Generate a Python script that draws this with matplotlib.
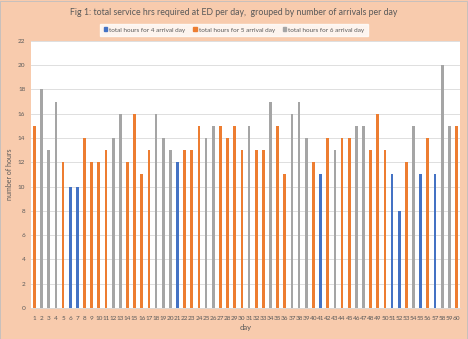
import numpy as np
import matplotlib.pyplot as plt
from matplotlib.patches import Patch, Rectangle

# hours per day and which group (number of arrivals) each day belongs to
days = list(range(1, 61))
hours = [15, 18, 13, 17, 12, 10, 10, 14, 12, 12,
         13, 14, 16, 12, 16, 11, 13, 16, 14, 13,
         12, 13, 13, 15, 14, 15, 15, 14, 15, 13,
         15, 13, 13, 17, 15, 11, 16, 17, 14, 12,
         11, 14, 13, 14, 14, 15, 15, 13, 16, 13,
         11, 8, 12, 15, 11, 14, 11, 20, 15, 15]
arrivals = [5, 6, 6, 6, 5, 4, 4, 5, 5, 5,
            5, 6, 6, 5, 5, 5, 5, 6, 6, 6,
            4, 5, 5, 5, 6, 6, 5, 5, 5, 5,
            6, 5, 5, 6, 5, 5, 6, 6, 6, 5,
            4, 5, 6, 5, 5, 6, 6, 5, 5, 5,
            4, 4, 5, 6, 4, 5, 4, 6, 6, 5]

series_names = ['total hours for 4 arrival day',
                'total hours for 5 arrival day',
                'total hours for 6 arrival day']
series_colors = {4: '#4472C4', 5: '#ED7D31', 6: '#A5A5A5'}

plt.rcParams['font.family'] = ['Lato', 'DejaVu Sans']
text_col = '#595959'
bg = '#F8CBAD'

fig = plt.figure(figsize=(4.68, 3.39), dpi=100)
fig.patch.set_facecolor(bg)
ax = fig.add_axes([0.066, 0.0914, 0.917, 0.788])
ax.set_facecolor('white')

days_arr = np.array(days)
hours_arr = np.array(hours)
arr_arr = np.array(arrivals)
for k in (4, 5, 6):
    m = arr_arr == k
    ax.bar(days_arr[m], hours_arr[m], width=0.38, color=series_colors[k], zorder=3)

ax.set_xlim(0.5, 60.5)
ax.set_ylim(0, 22)
ax.set_yticks(range(0, 23, 2))
ax.set_xticks(days)
ax.set_xticklabels([str(d) for d in days])
ax.tick_params(axis='x', length=0, labelsize=4.6, colors=text_col, pad=6)
ax.tick_params(axis='y', length=0, labelsize=4.6, colors=text_col, pad=4)
ax.grid(axis='y', color='#D9D9D9', linewidth=0.6, zorder=0)
for s in ['top', 'right', 'left']:
    ax.spines[s].set_visible(False)
ax.spines['bottom'].set_color('#D9D9D9')
ax.spines['bottom'].set_linewidth(0.6)

ax.set_ylabel('number of hours', fontsize=5, color=text_col, labelpad=4)
ax.yaxis.set_label_coords(-0.041, 0.5)
ax.set_xlabel('day', fontsize=5.5, color=text_col, labelpad=2)

fig.text(0.5, 0.962, 'Fig 1: total service hrs required at ED per day,  grouped by number of arrivals per day',
         ha='center', va='center', fontsize=6.3, color=text_col)

handles = [Patch(color=series_colors[k]) for k in (4, 5, 6)]
leg = fig.legend(handles, series_names, loc='center', bbox_to_anchor=(0.5, 0.9115),
                 ncol=3, fontsize=4.6, frameon=True, fancybox=False,
                 handlelength=0.6, handleheight=0.6, handletextpad=0.3,
                 columnspacing=1.2, borderpad=0.5, labelcolor=text_col)
leg.get_frame().set_facecolor('white')
leg.get_frame().set_edgecolor('white')

fig.patches.append(Rectangle((0.001, 0.001), 0.997, 0.997, transform=fig.transFigure,
                             fill=False, edgecolor='#BFBFBF', linewidth=0.6))

fig.savefig('out.png', dpi=100, facecolor=bg)
